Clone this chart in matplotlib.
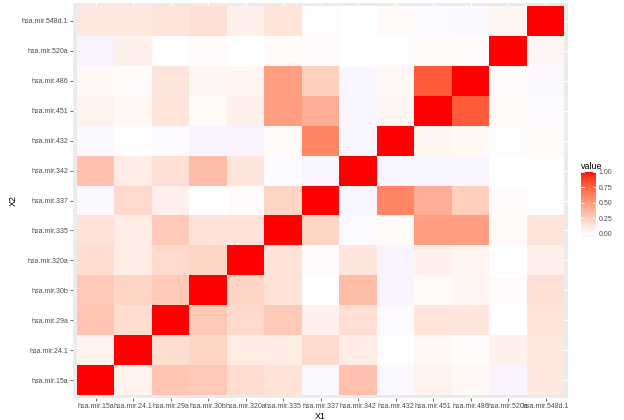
import numpy as np
import matplotlib
matplotlib.use("Agg")
from matplotlib import pyplot as plt
from matplotlib.colors import ListedColormap, Normalize

plt.rcParams["font.family"] = ["Liberation Sans", "DejaVu Sans"]

# mirna names, bottom-to-top on X2 and left-to-right on X1
mirs = ["hsa.mir.15a", "hsa.mir.24.1", "hsa.mir.29a", "hsa.mir.30b",
        "hsa.mir.320a", "hsa.mir.335", "hsa.mir.337", "hsa.mir.342",
        "hsa.mir.432", "hsa.mir.451", "hsa.mir.486", "hsa.mir.520a",
        "hsa.mir.548d.1"]

# correlation rows (one per X2 value, bottom row first)
r_15a = [1.00, 0.07, 0.30, 0.28, 0.18, 0.15, -0.03, 0.32, -0.03, 0.07, 0.04, -0.05, 0.12]
r_24_1 = [0.07, 1.00, 0.18, 0.22, 0.10, 0.10, 0.20, 0.10, -0.01, 0.04, 0.02, 0.08, 0.12]
r_29a = [0.30, 0.18, 1.00, 0.28, 0.20, 0.28, 0.08, 0.17, -0.02, 0.14, 0.13, 0.00, 0.14]
r_30b = [0.28, 0.22, 0.28, 1.00, 0.22, 0.15, 0.00, 0.35, -0.05, 0.03, 0.05, 0.02, 0.17]
r_320a = [0.18, 0.10, 0.20, 0.22, 1.00, 0.15, 0.02, 0.13, -0.05, 0.08, 0.06, 0.00, 0.08]
r_335 = [0.15, 0.10, 0.28, 0.15, 0.15, 1.00, 0.22, -0.02, 0.03, 0.50, 0.50, 0.03, 0.14]
r_337 = [-0.03, 0.20, 0.08, 0.00, 0.02, 0.22, 1.00, -0.04, 0.62, 0.42, 0.25, 0.02, -0.01]
r_342 = [0.32, 0.10, 0.17, 0.35, 0.13, -0.02, -0.04, 1.00, -0.04, -0.04, -0.04, 0.00, 0.00]
r_432 = [-0.03, -0.01, -0.02, -0.05, -0.05, 0.03, 0.62, -0.04, 1.00, 0.05, 0.04, -0.01, 0.03]
r_451 = [0.07, 0.04, 0.14, 0.03, 0.08, 0.50, 0.42, -0.04, 0.05, 1.00, 0.80, 0.03, -0.02]
r_486 = [0.04, 0.02, 0.13, 0.05, 0.06, 0.50, 0.25, -0.04, 0.04, 0.80, 1.00, 0.02, -0.03]
r_520a = [-0.05, 0.08, 0.00, 0.02, 0.00, 0.03, 0.02, 0.00, -0.01, 0.03, 0.02, 1.00, 0.05]
r_548d_1 = [0.12, 0.12, 0.14, 0.17, 0.08, 0.14, -0.01, 0.00, 0.03, -0.02, -0.03, 0.05, 1.00]

legend_breaks = [0.00, 0.25, 0.50, 0.75, 1.00]


# --- colour ramp blue / white / red interpolated in CIELAB like ggplot ---
WHITE_REF = np.array([0.95047, 1.0, 1.08883])
M_RGB2XYZ = np.array([[0.4124, 0.3576, 0.1805],
                      [0.2126, 0.7152, 0.0722],
                      [0.0193, 0.1192, 0.9505]])


def rgb_to_lab(rgb):
    c = np.asarray(rgb, float)
    lin = np.where(c <= 0.04045, c / 12.92, ((c + 0.055) / 1.055) ** 2.4)
    xyz = M_RGB2XYZ @ lin / WHITE_REF
    d = 6 / 29
    f = np.where(xyz > d ** 3, np.cbrt(xyz), xyz / (3 * d * d) + 4 / 29)
    return np.array([116 * f[1] - 16, 500 * (f[0] - f[1]), 200 * (f[1] - f[2])])


def lab_to_rgb(lab):
    L, a, b = lab
    fy = (L + 16) / 116
    f = np.array([fy + a / 500, fy, fy - b / 200])
    d = 6 / 29
    xyz = np.where(f > d, f ** 3, 3 * d * d * (f - 4 / 29)) * WHITE_REF
    lin = np.linalg.solve(M_RGB2XYZ, xyz)
    lin = np.clip(lin, 0, 1)
    c = np.where(lin <= 0.0031308, 12.92 * lin, 1.055 * lin ** (1 / 2.4) - 0.055)
    return np.clip(c, 0, 1)


lab_low = rgb_to_lab([0, 0, 1])
lab_mid = rgb_to_lab([1, 1, 1])
lab_high = rgb_to_lab([1, 0, 0])
ramp = []
for t in np.linspace(0, 1, 511):
    if t < 0.5:
        lab = lab_low + (lab_mid - lab_low) * (t / 0.5)
    else:
        lab = lab_mid + (lab_high - lab_mid) * ((t - 0.5) / 0.5)
    ramp.append(lab_to_rgb(lab))
cmap = ListedColormap(ramp)
norm = Normalize(-1, 1)

corr = np.array([r_15a, r_24_1, r_29a, r_30b, r_320a, r_335, r_337,
                 r_342, r_432, r_451, r_486, r_520a, r_548d_1])
n = len(mirs)

fig = plt.figure(figsize=(6.24, 4.2), dpi=100)
ax = fig.add_axes([73 / 624, 22 / 420, 495 / 624, 395 / 420])
ax.set_facecolor("#EBEBEB")
ax.set_axisbelow(True)
ax.grid(True, color="white", linewidth=0.8)
edges = np.arange(n + 1) - 0.5
ax.pcolormesh(edges, edges, corr, cmap=cmap, norm=norm,
              edgecolors="none", antialiased=False, zorder=2)
ax.set_xlim(-0.6, n - 0.4)
ax.set_ylim(-0.6, n - 0.4)
ax.set_xticks(range(n))
ax.set_xticklabels(mirs)
ax.set_yticks(range(n))
ax.set_yticklabels(mirs)
ax.tick_params(axis="both", length=2.0, width=0.5, color="#333333",
               labelsize=5.0, labelcolor="#4D4D4D", pad=1.6)
for s in ax.spines.values():
    s.set_visible(False)
ax.set_xlabel("X1", fontsize=6.4, color="black", labelpad=1.5)
ax.set_ylabel("X2", fontsize=6.4, color="black", labelpad=2.5)

# legend colourbar
vmin, vmax = corr.min(), corr.max()
cax = fig.add_axes([581 / 624, 1 - 237 / 420, 15 / 624, 65 / 420])
grad = np.linspace(vmin, vmax, 200).reshape(-1, 1)
cax.imshow(grad, cmap=cmap, norm=norm, aspect="auto", origin="lower",
           extent=[0, 1, vmin, vmax])
cax.set_xlim(0, 1)
cax.set_ylim(vmin, vmax)
for b in legend_breaks:
    cax.plot([0, 0.2], [b, b], color="white", linewidth=0.6)
    cax.plot([0.8, 1], [b, b], color="white", linewidth=0.6)
cax.set_xticks([])
cax.set_yticks(legend_breaks)
cax.set_yticklabels([f"{b:.2f}" for b in legend_breaks])
cax.yaxis.tick_right()
cax.tick_params(axis="y", length=0, labelsize=5.0, labelcolor="#4D4D4D", pad=2.0)
for s in cax.spines.values():
    s.set_visible(False)
cax.set_title("value", fontsize=6.4, loc="left", pad=2.5, color="black")

fig.savefig("out.png", dpi=100)
